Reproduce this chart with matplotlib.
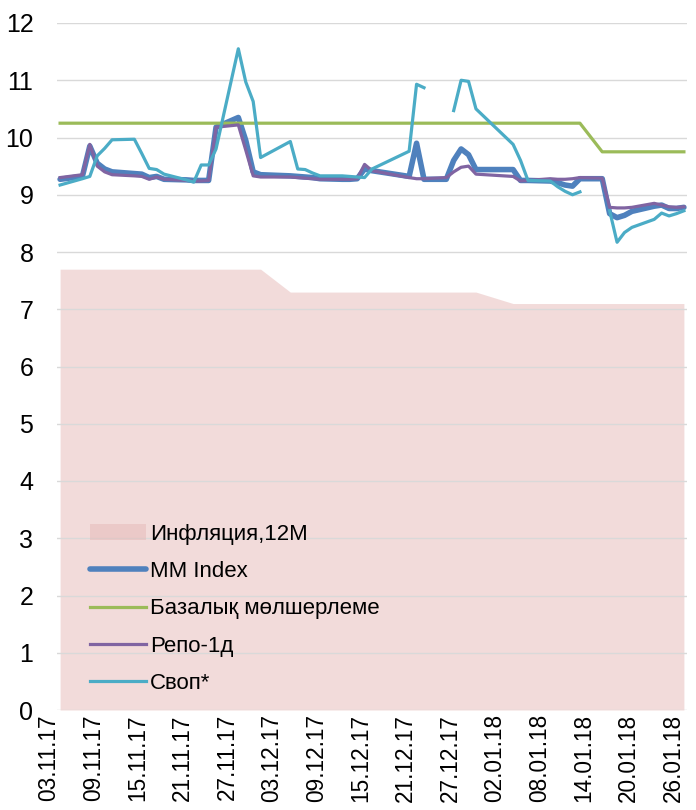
import matplotlib
matplotlib.use("Agg")
import matplotlib.pyplot as plt
import matplotlib.dates as mdates
import matplotlib.transforms as mtransforms
import numpy as np
import pandas as pd

# business days (Kazakhstan calendar)
dates = pd.to_datetime([
    "2017-11-03", "2017-11-06", "2017-11-07", "2017-11-08", "2017-11-09", "2017-11-10",
    "2017-11-13", "2017-11-14", "2017-11-15", "2017-11-16", "2017-11-17",
    "2017-11-20", "2017-11-21", "2017-11-22", "2017-11-23", "2017-11-24",
    "2017-11-27", "2017-11-28", "2017-11-29", "2017-11-30",
    "2017-12-04", "2017-12-05", "2017-12-06", "2017-12-07", "2017-12-08",
    "2017-12-11", "2017-12-12", "2017-12-13", "2017-12-14", "2017-12-15",
    "2017-12-20", "2017-12-21", "2017-12-22",
    "2017-12-25", "2017-12-26", "2017-12-27", "2017-12-28", "2017-12-29",
    "2018-01-03", "2018-01-04", "2018-01-05",
    "2018-01-08", "2018-01-09", "2018-01-10", "2018-01-11", "2018-01-12",
    "2018-01-15", "2018-01-16", "2018-01-17", "2018-01-18", "2018-01-19",
    "2018-01-22", "2018-01-23", "2018-01-24", "2018-01-25", "2018-01-26",
])

inflation = [7.7] * 20 + [7.3] * 18 + [7.1] * 18

mm_index = [
    9.27, 9.32, 9.85, 9.55, 9.45, 9.40,
    9.37, 9.36, 9.30, 9.32, 9.27,
    9.26, 9.25, 9.25, 9.25, 10.18,
    10.35, 9.95, 9.40, 9.35,
    9.33, 9.32, 9.31, 9.30, 9.28,
    9.27, 9.27, 9.28, 9.45, 9.42,
    9.32, 9.90, 9.27,
    9.27, 9.60, 9.80, 9.70, 9.44,
    9.44, 9.25, 9.25,
    9.24, 9.21, 9.17, 9.15, 9.28,
    9.28, 8.67, 8.60, 8.64, 8.71,
    8.80, 8.82, 8.76, 8.76, 8.78,
]

base_rate = [10.25] * 46 + [9.75] * 10

repo = [
    9.30, 9.35, 9.88, 9.50, 9.40, 9.35,
    9.33, 9.32, 9.27, 9.31, 9.27,
    9.25, 9.24, 9.24, 9.25, 10.18,
    10.22, 9.78, 9.33, 9.31,
    9.31, 9.30, 9.29, 9.28, 9.27,
    9.27, 9.27, 9.28, 9.53, 9.42,
    9.30, 9.28, 9.28,
    9.30, 9.40, 9.48, 9.50, 9.36,
    9.32, 9.24, 9.25,
    9.28, 9.27, 9.27, 9.28, 9.30,
    9.29, 8.78, 8.77, 8.77, 8.78,
    8.85, 8.82, 8.79, 8.78, 8.79,
]

swap = [
    9.17, 9.28, 9.32, 9.68, 9.81, 9.96,
    9.97, 9.72, 9.46, 9.44, 9.36,
    9.26, 9.22, 9.52, 9.52, 9.80,
    11.55, 10.97, 10.63, 9.65,
    9.93, 9.45, 9.44, 9.38, 9.33,
    9.33, 9.32, 9.31, 9.30, 9.45,
    9.76, 10.93, 10.87,
    np.nan, 10.47, 11.00, 10.98, 10.50,
    9.88, 9.60, 9.25,
    9.24, 9.14, 9.06, 9.00, 9.05,
    np.nan, 8.72, 8.17, 8.34, 8.43,
    8.57, 8.68, 8.63, 8.67, 8.72,
]

tick_dates = pd.date_range("2017-11-03", "2018-01-26", freq="6D")

fig = plt.figure(figsize=(6.96, 8.1), dpi=100)
ax = fig.add_axes([57 / 696, 1 - 710 / 810, 630 / 696, 687 / 810])

ax.fill_between(dates, 0, inflation, color="#E6B8B7", alpha=0.5, lw=0,
                zorder=0.3, label="Инфляция,12M")
ax.plot(dates, mm_index, color="#4F81BD", lw=4.0, label="MM Index",
        solid_joinstyle="round", solid_capstyle="round")
ax.plot(dates, base_rate, color="#9BBB59", lw=2.3, label="Базалық мөлшерлеме")
ax.plot(dates, repo, color="#8064A2", lw=2.3, label="Репо-1д")
ax.plot(dates, swap, color="#4BACC6", lw=2.3, label="Своп*")

ax.set_ylim(0, 12)
ax.set_yticks(range(0, 13))
ax.set_xlim(dates[0] - pd.Timedelta(hours=10), dates[-1] + pd.Timedelta(hours=10))
ax.set_xticks(tick_dates)
ax.xaxis.set_major_formatter(mdates.DateFormatter("%d.%m.%y"))

ax.set_axisbelow(True)
ax.grid(axis="y", color="#D9D9D9", lw=1)
for s in ax.spines.values():
    s.set_visible(False)
ax.tick_params(axis="both", length=0)
ax.tick_params(axis="y", pad=17)
ax.tick_params(axis="x", pad=3)

for lab in ax.get_yticklabels():
    lab.set_fontfamily(["Liberation Sans Narrow", "Liberation Sans"])
    lab.set_fontsize(18)
shift = mtransforms.ScaledTranslation(-11 / 100, 0, fig.dpi_scale_trans)
for lab in ax.get_xticklabels():
    lab.set_fontfamily("Liberation Sans")
    lab.set_fontsize(16.3)
    lab.set_rotation(90)
    lab.set_transform(lab.get_transform() + shift)

leg = ax.legend(loc="upper left", bbox_to_anchor=(90 / 696, 1 - 524 / 810),
                bbox_transform=fig.transFigure, frameon=False,
                prop={"family": "Liberation Sans", "size": 16},
                borderpad=0, borderaxespad=0, handlelength=2.5,
                handletextpad=0.2, labelspacing=0.73)

fig.savefig("out.png", dpi=100)
